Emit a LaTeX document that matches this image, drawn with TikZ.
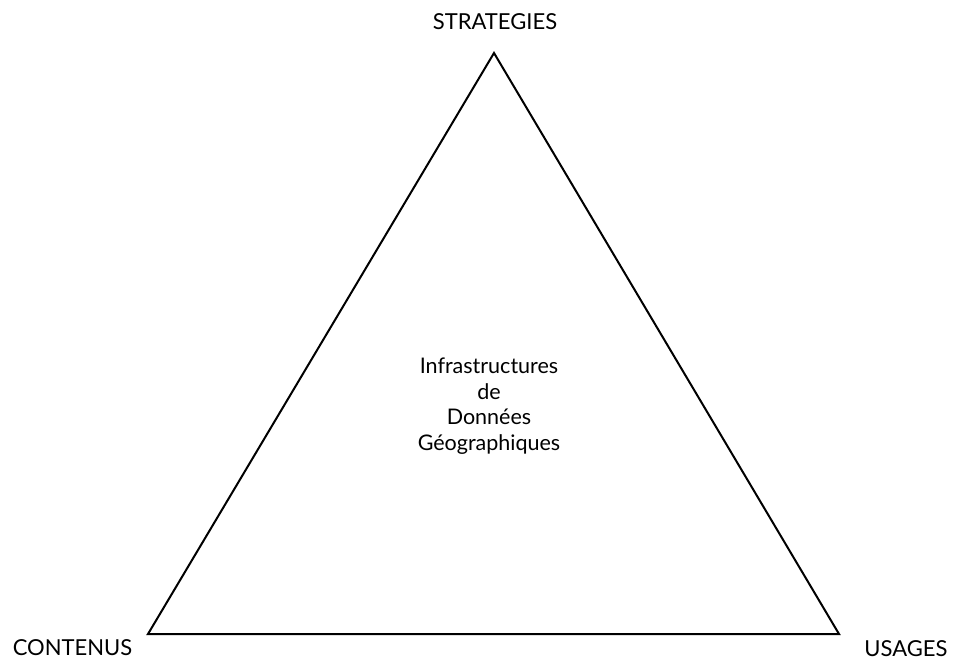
\documentclass[tikz,border=0pt]{standalone}
\usepackage{fontspec}
\setmainfont{Lato}
\begin{document}
\begin{tikzpicture}[x=1pt,y=-1pt,
  lbl/.style={font=\fontsize{22}{24}\selectfont, inner sep=0pt},
  ctr/.style={font=\fontsize{21.5}{25.5}\selectfont, align=center, inner sep=0pt}]
\useasboundingbox (0,0) rectangle (954,661);
\coordinate (T) at (494,53);
\coordinate (L) at (148,634);
\coordinate (R) at (839,634);
\draw[line width=2pt, line join=miter] (T) -- (L) -- (R) -- cycle;
\node[lbl] (s) at (495,21.5) {STRATEGIES};
\node[lbl] (c) at (72.5,647.5) {CONTENUS};
\node[lbl] (u) at (906,648.5) {USAGES};
\node[ctr] (m) at (489,406) {Infrastructures\\de\\Données\\Géographiques};
\end{tikzpicture}
\end{document}
